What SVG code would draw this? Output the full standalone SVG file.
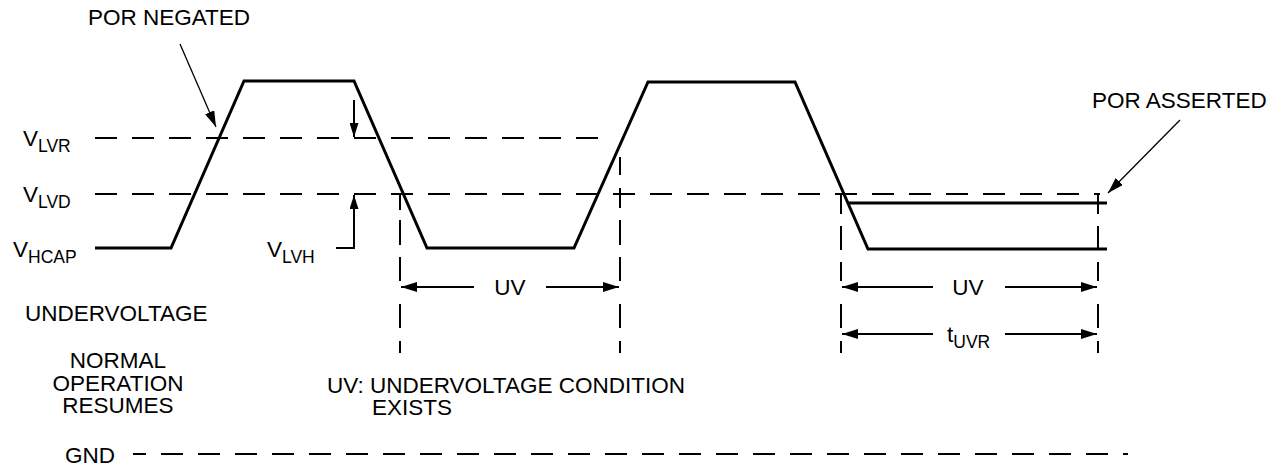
<svg xmlns="http://www.w3.org/2000/svg" width="1281" height="468" viewBox="0 0 1281 468">
<style>
text{font-family:"Liberation Sans",Arial,sans-serif;font-size:22.5px;fill:#000}
.sub{font-size:17.5px}
.wave{fill:none;stroke:#000;stroke-width:3;stroke-linejoin:miter}
.dash{fill:none;stroke:#000;stroke-width:2;stroke-dasharray:22 15}
.vd{fill:none;stroke:#000;stroke-width:2}
.thin{fill:none;stroke:#000;stroke-width:2}
.ptr{fill:none;stroke:#000;stroke-width:1.3}
</style>
<defs>
<marker id="ah" viewBox="0 0 16 10" refX="16" refY="5" markerWidth="16" markerHeight="10" markerUnits="userSpaceOnUse" orient="auto">
<path d="M0,0 L16,5 L0,10 Z" fill="#000"/>
</marker>
<marker id="ahs" viewBox="0 0 14 9" refX="14" refY="4.5" markerWidth="14" markerHeight="9" markerUnits="userSpaceOnUse" orient="auto">
<path d="M0,0 L14,4.5 L0,9 Z" fill="#000"/>
</marker>
</defs>
<g id="levels">
<line class="dash" x1="95" y1="138" x2="613" y2="138"/>
<line class="dash" x1="95" y1="194" x2="1100" y2="194"/>
<line class="dash" x1="133" y1="454" x2="1128" y2="454" stroke-dashoffset="9"/>
<path class="vd" d="M400,194V210M400,220V245M400,257V281M400,304V328M400,341V353"/>
<path class="vd" d="M620,157V175M620,188V208M620,220V245M620,257V281M620,304V328M620,341V353"/>
<path class="vd" d="M841,194V214M841,226V250M841,262V281M841,304V328M841,341V353"/>
<path class="vd" d="M1098,194V214M1098,226V250M1098,262V281M1098,304V328M1098,341V353"/>
</g>
<g id="waveform">
<polyline class="wave" points="95,248 171,248 244,81 354,81 427,248 574,248 648,82 795,82 868,249 1107,249"/>
<line class="wave" x1="847" y1="203" x2="1107" y2="203"/>
</g>
<g id="connectors">
<line class="ptr" x1="180" y1="44" x2="216" y2="127" marker-end="url(#ah)"/>
<line class="ptr" x1="1180" y1="120" x2="1108" y2="193" marker-end="url(#ah)"/>
<line class="thin" x1="354" y1="100" x2="354" y2="137" marker-end="url(#ahs)"/>
<polyline class="thin" points="336,248 354,248 354,195" marker-end="url(#ahs)"/>
<line class="thin" x1="474" y1="287" x2="401" y2="287" marker-end="url(#ah)"/>
<line class="thin" x1="546" y1="287" x2="619" y2="287" marker-end="url(#ah)"/>
<line class="thin" x1="933" y1="287" x2="842" y2="287" marker-end="url(#ah)"/>
<line class="thin" x1="1005" y1="287" x2="1097" y2="287" marker-end="url(#ah)"/>
<line class="thin" x1="933" y1="334" x2="842" y2="334" marker-end="url(#ah)"/>
<line class="thin" x1="1005" y1="334" x2="1097" y2="334" marker-end="url(#ah)"/>
</g>
<g id="labels">
<text x="88" y="25">POR NEGATED</text>
<text x="1092" y="108">POR ASSERTED</text>
<text x="23" y="146">V<tspan class="sub" dy="6">LVR</tspan></text>
<text x="23" y="202">V<tspan class="sub" dy="6">LVD</tspan></text>
<text x="13" y="257">V<tspan class="sub" dy="6">HCAP</tspan></text>
<text x="267" y="257">V<tspan class="sub" dy="6">LVH</tspan></text>
<text x="510" y="295" text-anchor="middle">UV</text>
<text x="968" y="295" text-anchor="middle">UV</text>
<text x="947" y="342">t<tspan class="sub" dy="6">UVR</tspan></text>
<text x="25" y="321">UNDERVOLTAGE</text>
<text x="118" y="368" text-anchor="middle">NORMAL</text>
<text x="118" y="391" text-anchor="middle">OPERATION</text>
<text x="118" y="413" text-anchor="middle">RESUMES</text>
<text x="327" y="393">UV: UNDERVOLTAGE CONDITION</text>
<text x="372" y="415">EXISTS</text>
<text x="65" y="463">GND</text>
</g>
</svg>
